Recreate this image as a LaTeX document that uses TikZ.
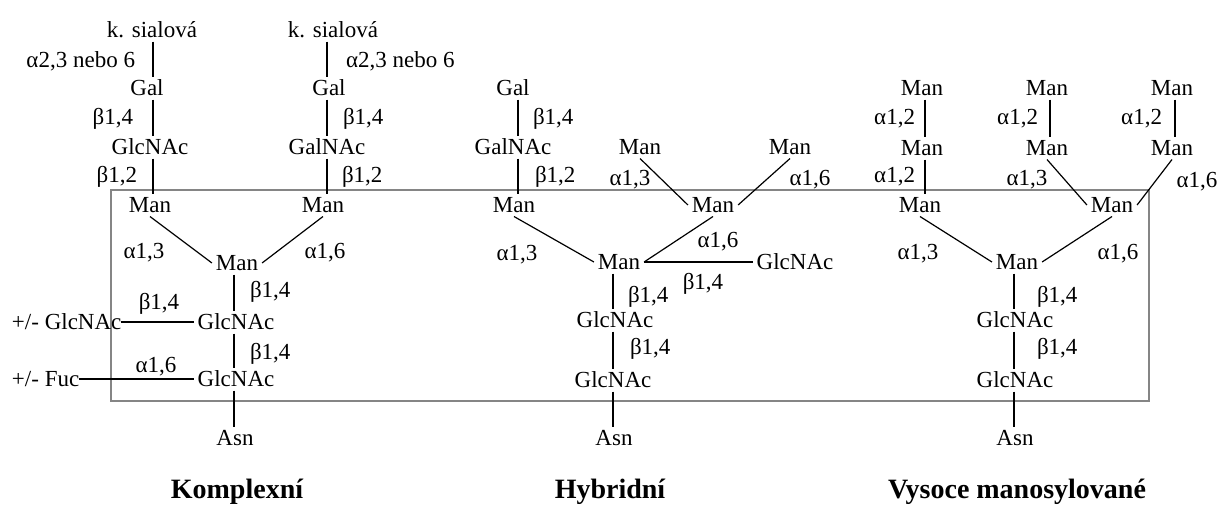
\documentclass[tikz,border=0pt]{standalone}
\usepackage{fontspec}
\setmainfont{Liberation Serif}
\begin{document}
\begin{tikzpicture}[x=1pt,y=-1pt,
  sug/.style={inner sep=0pt, outer sep=4pt, text height=15pt, text depth=0pt, font=\fontsize{23}{27}\selectfont},
  lab/.style={inner sep=0pt, outer sep=0pt, text height=15pt, text depth=0pt, font=\fontsize{23}{27}\selectfont},
  link/.style={line width=1.2pt, black},
  frame/.style={line width=1.8pt, draw=black!48},
  ttl/.style={inner sep=0pt, text height=19pt, text depth=0pt, font=\fontsize{28}{33}\selectfont\bfseries}]
\useasboundingbox (0,0) rectangle (1218,507);
\fill[white] (0,0) rectangle (1218,507);
% core frame
\draw[frame] (111,190) rectangle (1149,401);

% ================= Komplexni =================
\node[sug] (ks1) at (152,30) {k. sialová};
\node[sug] (gal1) at (147,88) {Gal};
\node[sug] (glc1) at (150,147) {GlcNAc};
\node[sug] (man1) at (150,205) {Man};
\coordinate (xa) at (153,0);
\draw[link] (ks1.south -| xa) -- (gal1.north -| xa);
\draw[link] (gal1.south -| xa) -- (glc1.north -| xa);
\draw[link] (glc1.south -| xa) -- (man1.north -| xa);
\node[lab, anchor=east] (la1) at (135,60) {α2,3 nebo 6};
\node[lab, anchor=east] (la2) at (133,117) {β1,4};
\node[lab, anchor=east] (la3) at (137,175) {β1,2};

\node[sug] (ks2) at (333,30) {k. sialová};
\node[sug] (gal2) at (329,88) {Gal};
\node[sug] (galn2) at (327,147) {GalNAc};
\node[sug] (man2) at (323,205) {Man};
\coordinate (xb) at (327,0);
\draw[link] (ks2.south -| xb) -- (gal2.north -| xb);
\draw[link] (gal2.south -| xb) -- (galn2.north -| xb);
\draw[link] (galn2.south -| xb) -- (man2.north -| xb);
\node[lab, anchor=west] (lb1) at (346,60) {α2,3 nebo 6};
\node[lab, anchor=west] (lb2) at (343,117) {β1,4};
\node[lab, anchor=west] (lb3) at (342,175) {β1,2};

\node[sug] (man3) at (237,263) {Man};
\draw[link] (man1.south) -- (man3.west);
\draw[link] (man2.south) -- (man3.east);
\node[lab] (lc1) at (144,251) {α1,3};
\node[lab] (lc2) at (325,251) {α1,6};

\node[sug] (glc3) at (236,322) {GlcNAc};
\node[sug] (glc4) at (236,379) {GlcNAc};
\node[sug] (asn1) at (235,438) {Asn};
\coordinate (xc) at (234,0);
\draw[link] (man3.south -| xc) -- (glc3.north -| xc);
\draw[link] (glc3.south -| xc) -- (glc4.north -| xc);
\draw[link] (glc4.south -| xc) -- (asn1.north -| xc);
\node[lab, anchor=west] (lc3) at (250,290) {β1,4};
\node[lab, anchor=west] (lc4) at (250,352) {β1,4};

\node[sug, anchor=west, outer sep=0pt] (pg) at (12,322) {+/- GlcNAc};
\node[sug, anchor=west, outer sep=0pt] (pf) at (12,379) {+/- Fuc};
\draw[link] (pg.east) -- (glc3.west);
\draw[link] (pf.east) -- (glc4.west);
\node[lab] (lc5) at (159,302) {β1,4};
\node[lab] (lc6) at (156,365) {α1,6};

\node[ttl] (t1) at (237,489) {Komplexní};

% ================= Hybridni =================
\node[sug] (hgal) at (513,88) {Gal};
\node[sug] (hgaln) at (513,147) {GalNAc};
\node[sug] (hmanL) at (514,205) {Man};
\coordinate (xd) at (518,0);
\draw[link] (hgal.south -| xd) -- (hgaln.north -| xd);
\draw[link] (hgaln.south -| xd) -- (hmanL.north -| xd);
\node[lab, anchor=west] (ld1) at (533,117) {β1,4};
\node[lab, anchor=west] (ld2) at (535,175) {β1,2};

\node[sug] (hmanT1) at (640,147) {Man};
\node[sug] (hmanT2) at (790,147) {Man};
\node[sug] (hmanM) at (713,205) {Man};
\draw[link] (hmanT1.south) -- (hmanM.west);
\draw[link] (hmanT2.south) -- (hmanM.east);
\node[lab] (ld3) at (630,178) {α1,3};
\node[lab] (ld4) at (810,178) {α1,6};

\node[sug] (hmanB) at (619,262) {Man};
\draw[link] (hmanL.south) -- (hmanB.west);
\draw[link] (hmanM.south) -- (hmanB.east);
\node[lab] (ld5) at (517,253) {α1,3};
\node[lab] (ld6) at (718,240) {α1,6};

\node[sug] (hglcR) at (795,262) {GlcNAc};
\draw[link] (hmanB.east) -- (hglcR.west);
\node[lab] (ld7) at (703,282) {β1,4};

\node[sug] (hglc1) at (615,320) {GlcNAc};
\node[sug] (hglc2) at (613,380) {GlcNAc};
\node[sug] (asn2) at (614,438) {Asn};
\coordinate (xe) at (613,0);
\draw[link] (hmanB.south -| xe) -- (hglc1.north -| xe);
\draw[link] (hglc1.south -| xe) -- (hglc2.north -| xe);
\draw[link] (hglc2.south -| xe) -- (asn2.north -| xe);
\node[lab, anchor=west] (ld8) at (628,295) {β1,4};
\node[lab, anchor=west] (ld9) at (630,347) {β1,4};

\node[ttl] (t2) at (610,489) {Hybridní};

% ================= Vysoce manosylovane =================
\node[sug] (m1) at (922,88) {Man};
\node[sug] (m2) at (922,148) {Man};
\node[sug] (m3) at (920,205) {Man};
\coordinate (xf) at (925,0);
\draw[link] (m1.south -| xf) -- (m2.north -| xf);
\draw[link] (m2.south -| xf) -- (m3.north -| xf);
\node[lab, anchor=east] (lf1) at (915,117) {α1,2};
\node[lab, anchor=east] (lf2) at (915,175) {α1,2};

\node[sug] (m4) at (1047,88) {Man};
\node[sug] (m5) at (1047,148) {Man};
\coordinate (xg) at (1050,0);
\draw[link] (m4.south -| xg) -- (m5.north -| xg);
\node[lab, anchor=east] (lg1) at (1038,117) {α1,2};

\node[sug] (m6) at (1172,88) {Man};
\node[sug] (m7) at (1172,148) {Man};
\coordinate (xh) at (1175,0);
\draw[link] (m6.south -| xh) -- (m7.north -| xh);
\node[lab, anchor=east] (lh1) at (1162,117) {α1,2};

\node[sug] (m8) at (1112,205) {Man};
\draw[link] (m5.south) -- (m8.west);
\draw[link] (m7.south) -- (m8.east);
\node[lab] (lg2) at (1027,178) {α1,3};
\node[lab] (lh2) at (1197,180) {α1,6};

\node[sug] (m9) at (1017,262) {Man};
\draw[link] (m3.south) -- (m9.west);
\draw[link] (m8.south) -- (m9.east);
\node[lab] (lf3) at (918,252) {α1,3};
\node[lab] (lf4) at (1118,252) {α1,6};

\node[sug] (vglc1) at (1015,320) {GlcNAc};
\node[sug] (vglc2) at (1015,380) {GlcNAc};
\node[sug] (asn3) at (1015,438) {Asn};
\coordinate (xi) at (1014,0);
\draw[link] (m9.south -| xi) -- (vglc1.north -| xi);
\draw[link] (vglc1.south -| xi) -- (vglc2.north -| xi);
\draw[link] (vglc2.south -| xi) -- (asn3.north -| xi);
\node[lab, anchor=west] (li1) at (1037,295) {β1,4};
\node[lab, anchor=west] (li2) at (1037,347) {β1,4};

\node[ttl] (t3) at (1017,489) {Vysoce manosylované};
\end{tikzpicture}
\end{document}
